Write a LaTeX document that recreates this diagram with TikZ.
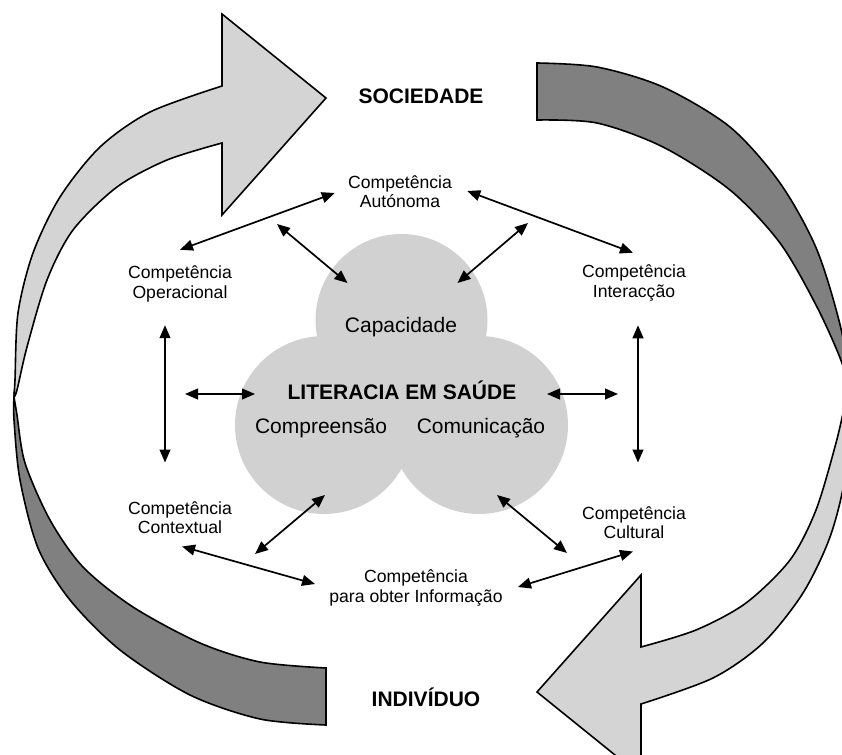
\documentclass[tikz,border=0pt]{standalone}
\usepackage{fontspec}
\setmainfont{Liberation Sans}
\usetikzlibrary{arrows.meta}
\definecolor{ribbonlight}{gray}{0.83}
\definecolor{ribbondark}{gray}{0.5}
\definecolor{blobgray}{gray}{0.82}

\begin{document}
\begin{tikzpicture}[
  x=0.5pt,y=-0.5pt,every node/.style={font=\fontsize{8.8}{9.6}\selectfont},
  skill/.style={align=center,inner sep=0pt},
  big/.style={font=\fontsize{10.5}{12}\selectfont,inner sep=0pt,anchor=base},
  bigbold/.style={big,font=\fontsize{10.5}{12}\selectfont\bfseries},
  blob/.style={circle,fill=blobgray,inner sep=0pt},
  link/.style={line width=.85pt,{Triangle[length=6.5pt,width=5.4pt]}-{Triangle[length=6.5pt,width=5.4pt]}},
  ribbon/.style={draw,line width=.8pt,line join=miter}]
  \useasboundingbox (0,0) rectangle (842,755);
  \clip (0,0) rectangle (842,755);

  % back of the band: dark, top right and bottom left
  \draw[ribbon,fill=ribbondark]
    plot[smooth] coordinates {(537,63) (597,67) (663,87) (730,127) (780,183) (817,250) (842,333) (849,395)}
    -- plot[smooth] coordinates {(849,395) (842,363) (817,307) (780,243) (730,190) (663,147) (597,123) (537,120)}
    -- cycle;
  \draw[ribbon,fill=ribbondark]
    plot[smooth] coordinates {(326,725) (260,719) (190,695) (120,650) (70,600) (38,548) (20,480) (14,420) (14,397)}
    -- plot[smooth] coordinates {(14,397) (17,415) (25,463) (50,520) (83,567) (133,607) (200,643) (260,662) (326,668)}
    -- cycle;

  % front of the band: the two light arrows, one the half turn of the other
  \foreach \a in {0,180}
    \draw[ribbon,fill=ribbonlight,rotate around={\a:(431.5,395)}]
      plot[smooth] coordinates {(14,397) (15,380) (18,313) (33,253) (60,197) (100,147) (150,112) (222,86)}
      -- (222,14) -- (326,98) -- (222,215) -- (222,143)
      -- plot[smooth] coordinates {(222,143) (167,160) (117,187) (73,230) (47,280) (27,347) (17,390) (14,397)}
      -- cycle;

  \node[bigbold] (soc) at (421,103) {SOCIEDADE};
  \node[bigbold] (ind) at (426,706) {INDIVÍDUO};

  % the cloud: three overlapping discs
  \node[blob,minimum size=86pt] (capa) at (401.5,320) {};
  \node[blob,minimum size=89pt] (compr) at (324,425) {};
  \node[blob,minimum size=89pt] (comun) at (479,425) {};
  \node[big] (tcap) at (401,332) {Capacidade};
  \node[bigbold] (tlit) at (402,399) {LITERACIA EM SAÚDE};
  \node[big] (tcompr) at (321,433) {Compreensão};
  \node[big] (tcomun) at (481,433) {Comunicação};

  % the six competences round the cloud
  \node[skill] (aut) at (400,192) {Competência\\Autónoma};
  \node[skill] (ope) at (180,284) {Competência\\Operacional};
  \node[skill] (int) at (634,283) {Competência\\Interacção};
  \node[skill] (ctx) at (180,518) {Competência\\Contextual};
  \node[skill] (cul) at (634,523) {Competência\\Cultural};
  \node[skill] (inf) at (416,588) {Competência\\para obter Informação};

  \draw[link] ([shift={(-13,1)}]aut.west) -- ([shift={(0,-16)}]ope.north);
  \draw[link] ([shift={(15,-1)}]aut.east) -- ([shift={(-1,-12)}]int.north);
  \draw[link] ([shift={(-15,23)}]ope.south) -- ([shift={(-15,-39)}]ctx.north);
  \draw[link] ([shift={(4,24)}]int.south) -- ([shift={(4,-44)}]cul.north);
  \draw[link] ([shift={(2,12)}]ctx.south) -- ([shift={(-14,-4)}]inf.west);
  \draw[link] ([shift={(-1,12)}]cul.south) -- ([shift={(15,-1)}]inf.east);

  % links from the cloud to the relations
  \coordinate (onAO) at (277,224);
  \coordinate (onAI) at (528,223);
  \coordinate (onOC) at (185,394);
  \coordinate (onIC) at (618,394);
  \coordinate (onCI) at (255,554);
  \coordinate (onUI) at (567,553);
  \draw[link] (onAO) -- ([shift={(-54,-37)}]capa.center);
  \draw[link] (onAI) -- ([shift={(56,-37)}]capa.center);
  \draw[link] (onOC) -- ([shift={(-69,-31)}]compr.center);
  \draw[link] (onIC) -- ([shift={(68,-31)}]comun.center);
  \draw[link] (onCI) -- ([shift={(1,70)}]compr.center);
  \draw[link] (onUI) -- ([shift={(18,70)}]comun.center);
\end{tikzpicture}
\end{document}
